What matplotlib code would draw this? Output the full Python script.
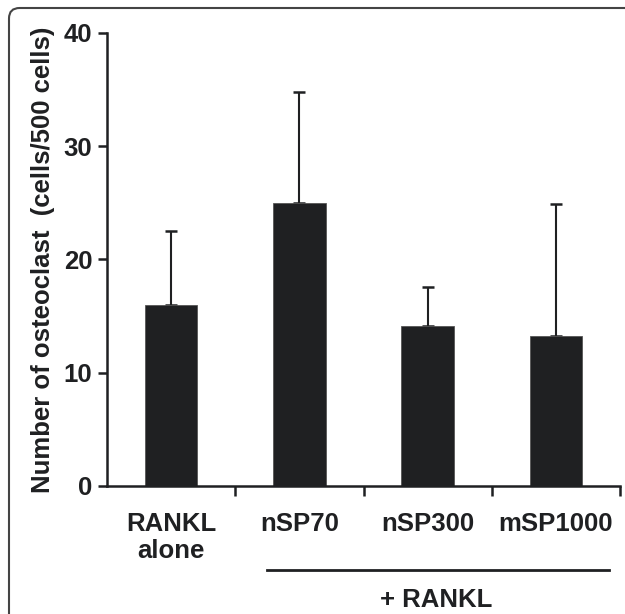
import matplotlib.pyplot as plt
from matplotlib.patches import FancyBboxPatch

# valori
categories = ["RANKL\nalone", "nSP70", "nSP300", "mSP1000"]
means = [16.0, 25.0, 14.1, 13.2]
errors = [6.5, 9.8, 3.5, 11.7]
yticks = [0, 10, 20, 30, 40]

plt.rcParams['font.family'] = ['Liberation Sans', 'DejaVu Sans']
plt.rcParams['font.weight'] = 'bold'

dark = '#1f2022'
fs = 18.5

fig = plt.figure(figsize=(6.25, 6.14), dpi=100)
ax = fig.add_axes([0.1712, 0.2085, 0.8208, 0.7378])

x = list(range(len(categories)))
ax.bar(x, means, width=0.41, color=dark, edgecolor='#555555', linewidth=0.6, zorder=2)
ax.errorbar(x, means, yerr=[[0] * len(errors), errors], fmt='none', ecolor=dark,
            elinewidth=1.5, capsize=4.3, capthick=1.8, zorder=1)

ax.set_xlim(-0.5, len(categories) - 0.5)
ax.set_ylim(0, 40)
ax.set_yticks(yticks)
ax.set_yticklabels([str(t) for t in yticks], fontsize=fs, fontweight='bold', color=dark)

# tick tra le categorie, etichette al centro
ax.set_xticks([i + 0.5 for i in range(len(categories))])
ax.set_xticklabels([])
ax.set_xticks(x, minor=True)
ax.set_xticklabels(categories, minor=True, fontsize=fs, fontweight='bold', color=dark,
                   linespacing=1.15)
ax.tick_params(axis='x', which='minor', length=0, pad=19)
ax.tick_params(axis='x', which='major', length=7, width=1.8, direction='out', color=dark)
ax.tick_params(axis='y', length=6.5, width=1.8, pad=4, color=dark)

for side in ['top', 'right']:
    ax.spines[side].set_visible(False)
for side in ['left', 'bottom']:
    ax.spines[side].set_linewidth(1.8)
    ax.spines[side].set_color(dark)

ax.set_ylabel("Number of osteoclast  (cells/500 cells)", fontsize=fs, fontweight='bold',
              color=dark, labelpad=6)

# linea "+ RANKL"
ax.plot([0.312, 0.979], [-0.185, -0.185], transform=ax.transAxes, color=dark,
        linewidth=2, clip_on=False)
ax.text(0.641, -0.252, "+ RANKL", transform=ax.transAxes, ha='center', va='center',
        fontsize=fs, fontweight='bold', color=dark)

# cornice arrotondata
border = FancyBboxPatch((9 / 625, -0.1), 1.2, 1.1 - 8 / 614,
                        boxstyle="round,pad=0,rounding_size=0.017",
                        transform=fig.transFigure, fill=False, edgecolor='#444444',
                        linewidth=1.5, clip_on=False)
fig.add_artist(border)

fig.savefig("out.png", dpi=100)
